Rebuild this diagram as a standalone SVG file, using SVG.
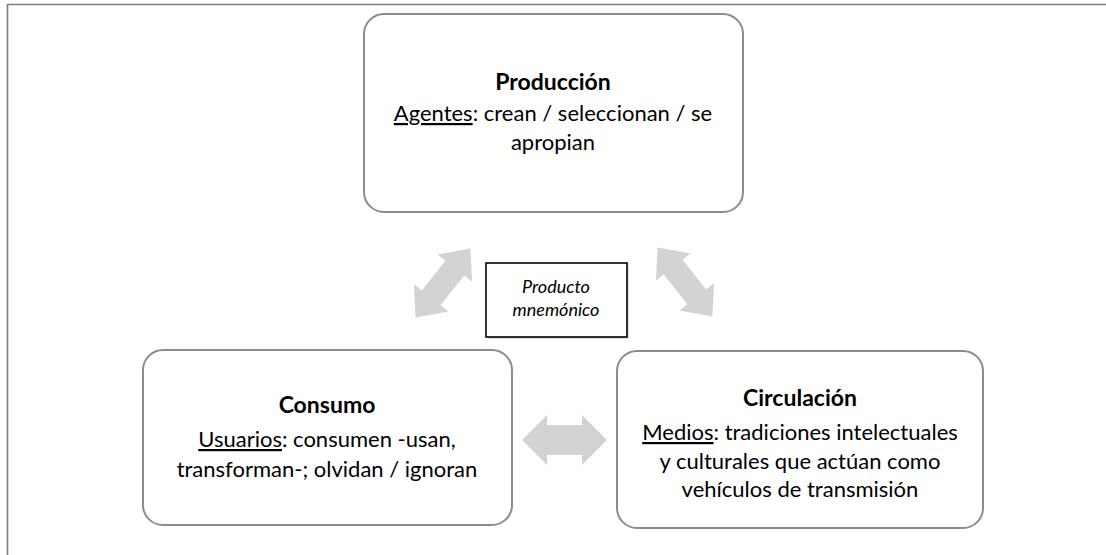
<svg xmlns="http://www.w3.org/2000/svg" width="1106" height="555" viewBox="0 0 1106 555">
<defs>
<style>
.frame{stroke:#7f7f7f;stroke-width:1.6;fill:none}
.box{fill:#ffffff;stroke:#8c8c8c;stroke-width:2}
.pbox{fill:#ffffff;stroke:#000000;stroke-width:1.6}
.arrow{fill:#d3d3d3;stroke:none}
.t{font-family:Lato,"Open Sans","Liberation Sans",sans-serif;font-size:22px;fill:#000000;text-anchor:middle}
.b{font-weight:bold;font-size:23px}
.i{font-style:italic;font-size:18px}
.u{text-decoration:underline}
</style>
<path id="darrow" d="M-44,0 L-19,-22 L-19,-12 L19,-12 L19,-22 L44,0 L19,22 L19,12 L-19,12 L-19,22 Z"/>
</defs>
<rect width="1106" height="555" fill="#ffffff"/>
<path class="frame" d="M7.5,555 L7.5,4.5 L1106,4.5"/>

<g id="connectors">
<use href="#darrow" class="arrow" transform="translate(443,283) rotate(-51.5)"/>
<use href="#darrow" class="arrow" transform="translate(685,282) rotate(51.5)"/>
<path class="arrow" d="M522,440 L547,415 L547,425 L582,425 L582,415 L607,440 L582,465 L582,455 L547,455 L547,465 Z"/>
</g>

<g id="produccion">
<rect class="box" x="364" y="14" width="379" height="198" rx="20"/>
<text class="t b" x="553" y="90">Producción</text>
<text class="t" x="553" y="121"><tspan class="u">Agentes</tspan>: crean / seleccionan / se</text>
<text class="t" x="553" y="150">apropian</text>
</g>

<g id="producto">
<rect x="488" y="265" width="141" height="74" fill="#bfbfbf" opacity="0.5"/>
<rect class="pbox" x="486" y="263" width="141" height="74"/>
<text class="t i" x="556" y="293">Producto</text>
<text class="t i" x="556" y="316">mnemónico</text>
</g>

<g id="consumo">
<rect class="box" x="143" y="350" width="369" height="175" rx="20"/>
<text class="t b" x="327" y="413">Consumo</text>
<text class="t" x="327" y="447"><tspan class="u">Usuarios</tspan>: consumen -usan,</text>
<text class="t" x="327" y="477">transforman-; olvidan / ignoran</text>
</g>

<g id="circulacion">
<rect class="box" x="617" y="351" width="366" height="177" rx="20"/>
<text class="t b" x="800" y="406">Circulación</text>
<text class="t" x="800" y="440"><tspan class="u">Medios</tspan>: tradiciones intelectuales</text>
<text class="t" x="800" y="469">y culturales que actúan como</text>
<text class="t" x="800" y="497">vehículos de transmisión</text>
</g>
</svg>
